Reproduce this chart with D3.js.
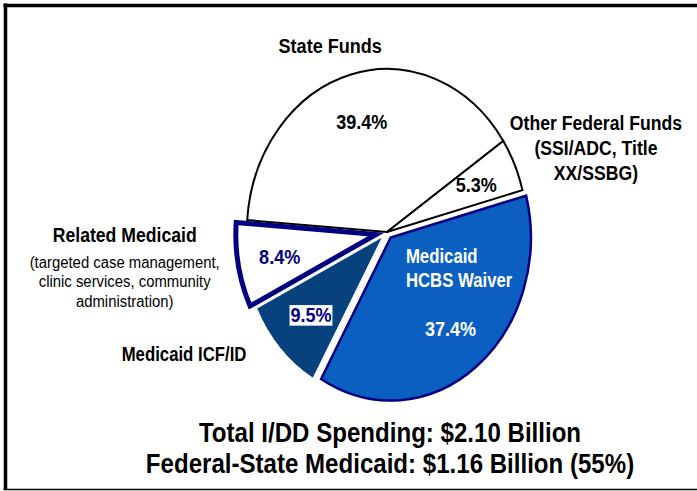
<!DOCTYPE html>
<html>
<head>
<meta charset="utf-8">
<script src="https://cdn.jsdelivr.net/npm/d3@7"></script>
<style>
  body { margin: 0; background: #fff; }
  svg { display: block; }
  text { font-family: "Liberation Sans", Arial, sans-serif; }
</style>
</head>
<body>
<svg width="697" height="491"></svg>
<script>
// data
var categories = ["State Funds", "Other Federal Funds", "Medicaid HCBS Waiver", "Medicaid ICF/ID", "Related Medicaid"];
var shares = [39.4, 5.3, 37.4, 9.5, 8.4];
var nameLines = [
  ["State Funds"],
  ["Other Federal Funds", "(SSI/ADC, Title", "XX/SSBG)"],
  ["Medicaid", "HCBS Waiver"],
  ["Medicaid ICF/ID"],
  ["Related Medicaid", "(targeted case management,", "clinic services, community", "administration)"]
];
var totals = ["Total I/DD Spending: $2.10 Billion", "Federal-State Medicaid: $1.16 Billion (55%)"];

// look
var fills   = ["#ffffff", "#ffffff", "#0a5fc0", "#07427f", "#ffffff"];
var strokes = ["#000000", "#000000", "#000080", "#ffffff", "#000080"];
var strokeW = [2, 2, 2.5, 1, 5];
var pctColor = ["#000000", "#000000", "#ffffff", "#000080", "#000080"];
var explode = [0, 0, 7, 7, 13];

var svg = d3.select("svg");

// frame round the picture
svg.append("line").attr("x1", 3.5).attr("x2", 697).attr("y1", 5.5).attr("y2", 5.5)
  .style("stroke", "#000").style("stroke-width", 3.5);
svg.append("line").attr("x1", 5.5).attr("x2", 5.5).attr("y1", 3.5).attr("y2", 490)
  .style("stroke", "#000").style("stroke-width", 3.5);
svg.append("line").attr("x1", 3.5).attr("x2", 697).attr("y1", 489.5).attr("y2", 489.5)
  .style("stroke", "#000").style("stroke-width", 1.5);

// the original is squeezed sideways, so draw in a squeezed group
var squeeze = 0.86;
var g = svg.append("g").attr("transform", "scale(" + squeeze + ",1)");

var cx = 450, cy = 232, R = 163;
var start = -85.8 * Math.PI / 180;

var pie = d3.pie().sort(null).value(function (d) { return d; })
  .startAngle(start).endAngle(start + 2 * Math.PI);
var arcs = pie(shares);
var arc = d3.arc().innerRadius(0).outerRadius(R);
var labelArc = d3.arc().innerRadius(R * 0.7).outerRadius(R * 0.7);

var shift = function (d, i) {
  var m = (d.startAngle + d.endAngle) / 2;
  return [cx + Math.sin(m) * explode[i], cy - Math.cos(m) * explode[i]];
};

// slices, drawn so the thick borders sit on top
[0, 1, 3, 2, 4].forEach(function (i) {
  var p = shift(arcs[i], i);
  g.append("path")
    .attr("d", arc(arcs[i]))
    .attr("transform", "translate(" + p[0] + "," + p[1] + ")")
    .attr("vector-effect", "non-scaling-stroke")
    .style("fill", fills[i])
    .style("stroke", strokes[i])
    .style("stroke-width", strokeW[i])
    .style("stroke-linejoin", "miter");
});

// percentages
arcs.forEach(function (d, i) {
  var p = shift(d, i);
  var c = labelArc.centroid(d);
  var t = g.append("text")
    .attr("x", p[0] + c[0]).attr("y", p[1] + c[1])
    .attr("dy", "0.36em")
    .attr("text-anchor", "middle")
    .style("font-size", "21px").style("font-weight", "bold")
    .style("fill", pctColor[i])
    .text(d3.format(".1f")(shares[i]) + "%");
  if (i == 3) {
    var b = t.node().getBBox();
    g.insert("rect", function () { return t.node(); })
      .attr("x", b.x - 1).attr("y", b.y + 2)
      .attr("width", b.width + 2).attr("height", b.height - 3)
      .style("fill", "#fff");
  }
});

// category names
var nameAt = [[384, 53, "middle"], [693, 130, "middle"], [472, 263, "start"], [214, 361, "middle"], [145, 242, "middle"]];
var nameSize = [21, 20.5, 19.5, 19.5, 20.5];
var lineGap = [0, 25, 24, 0, 19.5];

nameLines.forEach(function (lines, i) {
  lines.forEach(function (s, j) {
    var sub = (i == 4 && j > 0);
    g.append("text")
      .attr("x", nameAt[i][0])
      .attr("y", nameAt[i][1] + (sub ? 26 + (j - 1) * lineGap[i] - lineGap[i] + lineGap[i] : j * lineGap[i]))
      .attr("text-anchor", nameAt[i][2])
      .style("font-size", sub ? "17.3px" : nameSize[i] + "px")
      .style("font-weight", sub ? "normal" : "bold")
      .style("fill", i == 2 ? "#fff" : "#000")
      .text(s);
  });
});

// totals underneath
totals.forEach(function (s, j) {
  g.append("text")
    .attr("x", 453.5).attr("y", 442 + j * 31)
    .attr("text-anchor", "middle")
    .style("font-size", "28px").style("font-weight", "bold")
    .style("fill", "#000")
    .text(s);
});
</script>
</body>
</html>
